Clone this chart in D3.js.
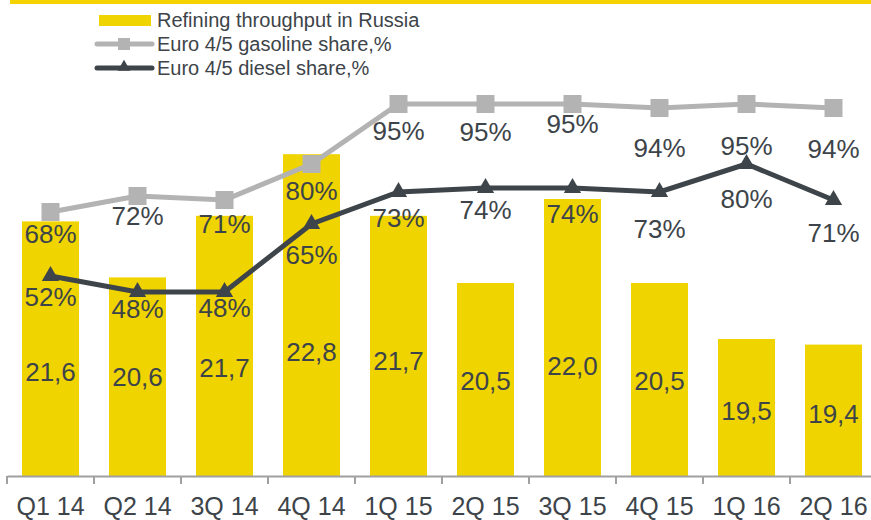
<!DOCTYPE html>
<html>
<head>
<meta charset="utf-8">
<script src="https://cdn.jsdelivr.net/npm/d3@7"></script>
<style>
  body { margin: 0; background: #fff; }
  text { font-family: "Liberation Sans", Arial, sans-serif; fill: #3d4449; }
</style>
</head>
<body>
<svg width="871" height="520"></svg>
<script>
const categories = ["Q1 14", "Q2 14", "3Q 14", "4Q 14", "1Q 15", "2Q 15", "3Q 15", "4Q 15", "1Q 16", "2Q 16"];
const throughput = [21.6, 20.6, 21.7, 22.8, 21.7, 20.5, 22.0, 20.5, 19.5, 19.4];
const gasolineShare = [68, 72, 71, 80, 95, 95, 95, 94, 95, 94];
const dieselShare = [52, 48, 48, 65, 73, 74, 74, 73, 80, 71];

// label nudges (px), hand placed like in the source slide
const barLabelShift = [23, 0, 22, 37, 15, 1, 28, 1, 3, 3];
const gasLabelDy = [22, 20, 24, 27, 27, 28, 20, 40, 42, 41];
const dieselLabelDy = [21, 17, 16, 31, 26, 22, 26, 37, 35, 33];

function main() {
  var svg = d3.select("svg");
  var yellow = "#f0d400",
    grey = "#b3b3b3",
    dark = "#3e454a",
    axisY = 476;

  // thin yellow band on top
  svg.append("rect").attr("x", 10).attr("y", 0).attr("width", 861).attr("height", 4).attr("fill", "#f5d300");

  var x = d3.scaleBand().domain(categories).range([7, 877]).paddingInner(0.345).paddingOuter(0.1725);
  var yBar = d3.scaleLinear().domain([17, 25]).range([479, 31]);
  var yPct = d3.scaleLinear().domain([0, 100]).range([484, 84]);
  var cx = (c) => x(c) + x.bandwidth() / 2;

  var rows = categories.map((c, i) => ({
    cat: c, t: throughput[i], g: gasolineShare[i], d: dieselShare[i], i: i
  }));

  // bars
  svg.append("g").selectAll("rect").data(rows).enter().append("rect")
    .attr("x", (d) => x(d.cat))
    .attr("y", (d) => yBar(d.t))
    .attr("width", x.bandwidth())
    .attr("height", (d) => axisY - yBar(d.t))
    .attr("fill", yellow);

  svg.append("g").selectAll("text").data(rows).enter().append("text")
    .attr("x", (d) => cx(d.cat))
    .attr("y", (d) => (yBar(d.t) + axisY) / 2 + barLabelShift[d.i])
    .attr("dy", "0.36em")
    .attr("text-anchor", "middle")
    .attr("font-size", 26)
    .text((d) => d3.format(".1f")(d.t).replace(".", ","));

  // axis
  var xAxis = d3.axisBottom(x).tickSize(0).tickSizeOuter(0);
  var ax = svg.append("g").attr("transform", "translate(0," + axisY + ")").call(xAxis);
  ax.select(".domain").attr("stroke", "#a0a0a0").attr("stroke-width", 2);
  ax.selectAll("text").attr("y", 39).attr("dy", null).attr("font-size", 25)
    .attr("font-family", "Liberation Sans, Arial, sans-serif").attr("fill", "#3d4449");
  var half = (x.step() - x.bandwidth()) / 2;
  ax.selectAll(".bt").data(categories).enter().append("line").attr("class", "bt")
    .attr("x1", (c) => x(c) - half).attr("x2", (c) => x(c) - half)
    .attr("y1", 0).attr("y2", 8)
    .attr("stroke", "#a0a0a0").attr("stroke-width", 2);

  // gasoline line
  var gasLine = d3.line().x((d) => cx(d.cat)).y((d) => yPct(d.g));
  svg.append("path").datum(rows).attr("d", gasLine)
    .attr("fill", "none").attr("stroke", grey).attr("stroke-width", 5);
  svg.append("g").selectAll("rect").data(rows).enter().append("rect")
    .attr("x", (d) => cx(d.cat) - 9).attr("y", (d) => yPct(d.g) - 9)
    .attr("width", 18).attr("height", 18).attr("fill", grey);

  // diesel line
  var dieselLine = d3.line().x((d) => cx(d.cat)).y((d) => yPct(d.d));
  svg.append("path").datum(rows).attr("d", dieselLine)
    .attr("fill", "none").attr("stroke", dark).attr("stroke-width", 5);
  var tri = d3.symbol().type(d3.symbolTriangle).size(130);
  svg.append("g").selectAll("path").data(rows).enter().append("path")
    .attr("d", tri)
    .attr("transform", (d) => "translate(" + cx(d.cat) + "," + yPct(d.d) + ")")
    .attr("fill", dark);

  // line labels
  svg.append("g").selectAll("text").data(rows).enter().append("text")
    .attr("x", (d) => cx(d.cat))
    .attr("y", (d) => yPct(d.g) + gasLabelDy[d.i])
    .attr("dy", "0.36em").attr("text-anchor", "middle").attr("font-size", 26)
    .text((d) => d.g + "%");
  svg.append("g").selectAll("text").data(rows).enter().append("text")
    .attr("x", (d) => cx(d.cat))
    .attr("y", (d) => yPct(d.d) + dieselLabelDy[d.i])
    .attr("dy", "0.36em").attr("text-anchor", "middle").attr("font-size", 26)
    .text((d) => d.d + "%");

  // legend
  var lg = svg.append("g");
  lg.append("rect").attr("x", 99).attr("y", 15).attr("width", 52).attr("height", 11).attr("fill", yellow);
  lg.append("line").attr("x1", 97).attr("x2", 152).attr("y1", 44).attr("y2", 44)
    .attr("stroke", grey).attr("stroke-width", 5).attr("stroke-linecap", "round");
  lg.append("rect").attr("x", 118).attr("y", 38).attr("width", 12).attr("height", 12).attr("fill", grey);
  lg.append("line").attr("x1", 97).attr("x2", 152).attr("y1", 68).attr("y2", 68)
    .attr("stroke", dark).attr("stroke-width", 5).attr("stroke-linecap", "round");
  lg.append("path").attr("d", d3.symbol().type(d3.symbolTriangle).size(70))
    .attr("transform", "translate(124,67)").attr("fill", dark);

  var names = ["Refining throughput in Russia", "Euro 4/5 gasoline share,%", "Euro 4/5 diesel share,%"];
  lg.selectAll(".lt").data(names).enter().append("text").attr("class", "lt")
    .attr("x", 157).attr("y", (d, i) => 20 + i * 24).attr("dy", "0.36em")
    .attr("font-size", 20).text((d) => d);
}

main();
</script>
</body>
</html>
